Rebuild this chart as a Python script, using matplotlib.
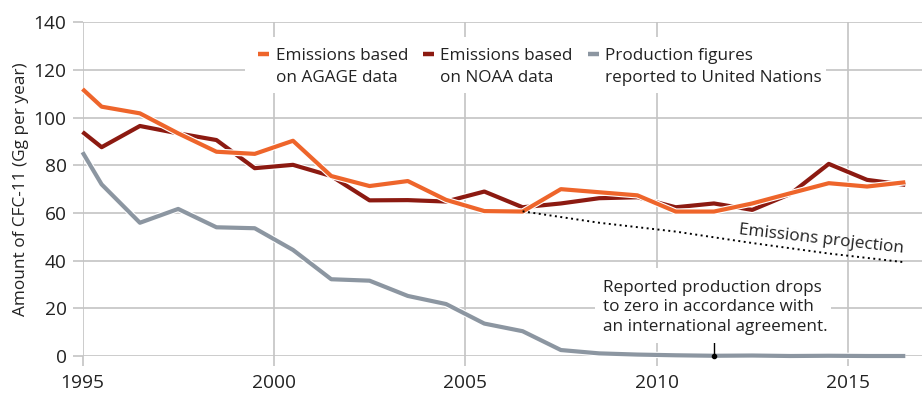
import matplotlib
matplotlib.use("Agg")
import matplotlib.pyplot as plt
import matplotlib.patheffects as pe
from matplotlib.patches import Rectangle
from matplotlib.lines import Line2D

FONT = ['Open Sans', 'DejaVu Sans']
plt.rcParams['font.family'] = FONT

# ---- data ----
years = [1995.0, 1995.5, 1996.5, 1997.5, 1998.5, 1999.5, 2000.5, 2001.5, 2002.5,
         2003.5, 2004.5, 2005.5, 2006.5, 2007.5, 2008.5, 2009.5, 2010.5, 2011.5,
         2012.5, 2013.5, 2014.5, 2015.5, 2016.5]
agage = [112.0, 104.6, 101.8, 93.4, 85.7, 84.8, 90.3, 75.5, 71.3,
         73.4, 65.5, 60.8, 60.6, 70.0, 68.7, 67.4, 60.6, 60.6,
         64.0, 68.3, 72.5, 71.1, 72.9]
noaa = [94.0, 87.6, 96.5, 93.4, 90.6, 78.8, 80.2, 75.5, 65.3,
        65.4, 64.8, 69.0, 62.4, 64.0, 66.2, 66.6, 62.4, 64.0,
        61.3, 68.0, 80.6, 73.9, 71.8]
production = [85.5, 72.0, 55.9, 61.7, 54.0, 53.6, 44.5, 32.2, 31.6,
              25.2, 21.8, 13.6, 10.4, 2.5, 1.1, 0.6, 0.3, 0.1,
              0.2, 0.0, 0.1, 0.0, 0.0]
proj_years = [2006.5, 2008.5, 2010.5, 2012.5, 2014.5, 2016.5]
projection = [60.7, 55.9, 52.2, 47.4, 43.0, 39.3]

xticks = [1995, 2000, 2005, 2010, 2015]
yticks = [0, 20, 40, 60, 80, 100, 120, 140]

legend_labels = [["Emissions based", "on AGAGE data"],
                 ["Emissions based", "on NOAA data"],
                 ["Production figures", "reported to United Nations"]]
note_lines = ["Reported production drops", "to zero in accordance with",
              "an international agreement."]
ylabel = "Amount of CFC-11 (Gg per year)"

ORANGE = "#EE652B"
DARKRED = "#8C1A11"
GRAY = "#8C96A1"
GRID = "#c4c4c4"
TXT = "#222222"

W, H = 922, 400
fig = plt.figure(figsize=(W / 100, H / 100), dpi=100)
renderer = fig.canvas.get_renderer()

def fit_size(s, target_px, base=12.0):
    t = fig.text(0, 0, s, fontsize=base)
    w = t.get_window_extent(renderer).width
    t.remove()
    return base * target_px / w

FS = fit_size("Emissions based", 131)
FS_TICK = fit_size("2000", 44)
FS_YL = FS_TICK * 0.9

left = 82.5 / W
right_year = 1995 + (W - 82.5) / 38.27
bottom = (H - 356) / H
top = (H - 22.3) / H
ax = fig.add_axes([left, bottom, 1 - left, top - bottom])
ax.set_xlim(1995, right_year)
ax.set_ylim(0, 140)

for s in ax.spines.values():
    s.set_visible(False)
ax.set_xticks(xticks)
ax.set_yticks(yticks)
ax.grid(True, color=GRID, lw=1.2, zorder=0)
ax.tick_params(axis='both', colors=GRID, labelcolor=TXT, labelsize=FS_TICK,
               length=7, width=1.2)
ax.tick_params(axis='x', pad=6)
ax.tick_params(axis='y', pad=4.5)
ax.set_axisbelow(True)

ax.set_ylabel(ylabel, fontsize=FS_YL, color=TXT, labelpad=3)

def fig_xy(px, py):
    return px / W, 1 - py / H

def line(x, y, color, z):
    ax.plot(x, y, color=color, lw=3.0, zorder=z, clip_on=False,
            solid_joinstyle='round', solid_capstyle='butt',
            path_effects=[pe.Stroke(linewidth=4.6, foreground='white'), pe.Normal()])

line(years, production, GRAY, 3)
line(years, noaa, DARKRED, 4)
line(years, agage, ORANGE, 5)
ax.plot(proj_years, projection, color='black', lw=1.4, ls=(0, (1, 1.8)), zorder=6)

# white boxes behind legend and annotation
for (x0, y0, x1, y1) in [(245, 37, 826, 93), (595, 268, 831, 343)]:
    fx0, fy1 = fig_xy(x0, y0)
    fx1, fy0 = fig_xy(x1, y1)
    fig.patches.append(Rectangle((fx0, fy0), fx1 - fx0, fy1 - fy0,
                                 transform=fig.transFigure, facecolor='white',
                                 edgecolor='none', zorder=1))
ax.set_zorder(0)
ax.patch.set_visible(False)

# legend (manual)
leg = [(258, 269, 276, ORANGE, legend_labels[0]),
       (423, 434, 440, DARKRED, legend_labels[1]),
       (588, 599, 605, GRAY, legend_labels[2])]
for hx0, hx1, tx, col, lab in leg:
    a0 = fig_xy(hx0, 53.5)
    a1 = fig_xy(hx1, 53.5)
    fig.add_artist(Line2D([a0[0], a1[0]], [a0[1], a1[1]], color=col, lw=3.2,
                          solid_capstyle='butt', zorder=3))
    for i, s in enumerate(lab):
        tx_, ty_ = fig_xy(tx, 60 + 21.7 * i)
        fig.text(tx_, ty_, s, fontsize=FS, color=TXT, ha='left', va='baseline', zorder=3)

# annotation
for i, s in enumerate(note_lines):
    tx_, ty_ = fig_xy(603, 291.7 + 19.7 * i)
    fig.text(tx_, ty_, s, fontsize=FS, color=TXT, ha='left', va='baseline', zorder=3)
ax.plot([2011.5, 2011.5], [0, 6.3], color='black', lw=1.0, zorder=7, clip_on=False)
ax.plot([2011.5], [0], marker='o', ms=3, color='black', zorder=7, clip_on=False)

# projection label
px_, py_ = fig_xy(821, 239)
fig.text(px_, py_, "Emissions projection", fontsize=FS, color=TXT, rotation=-6.5,
         rotation_mode='anchor', ha='center', va='center', zorder=3)

fig.savefig("out.png", dpi=100)
